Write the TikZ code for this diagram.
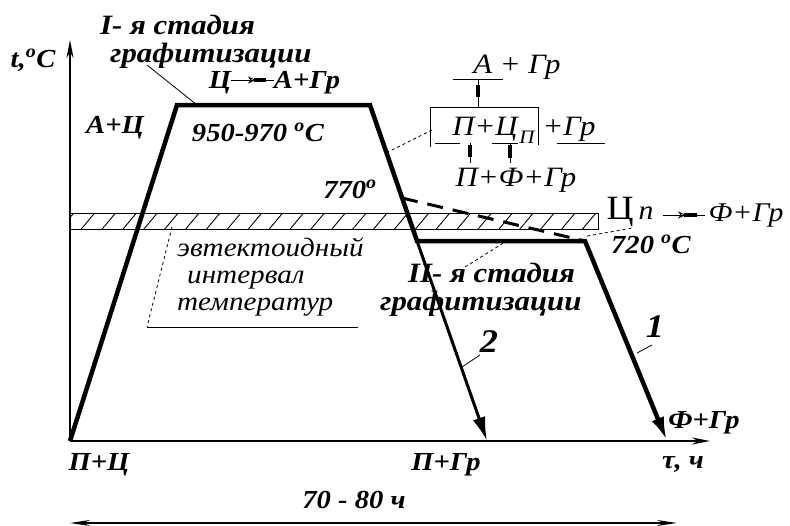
\documentclass[tikz,border=0pt]{standalone}
\usepackage{fontspec}
\setmainfont{Liberation Serif}[FakeStretch=1.1]
\usetikzlibrary{arrows.meta,patterns.meta}

\begin{document}
\begin{tikzpicture}[x=1pt,y=-1pt,>=Stealth,
    lab/.style={font=\bfseries\itshape\fontsize{26}{28}\selectfont,inner sep=0pt,anchor=base},
    head/.style={font=\bfseries\itshape\fontsize{28}{28}\selectfont,inner sep=0pt,align=left,anchor=base west},
    phase/.style={font=\itshape\fontsize{28}{30}\selectfont,inner sep=0pt,anchor=base},
    note/.style={font=\itshape\fontsize{26.5}{27}\selectfont,inner sep=0pt,align=left,anchor=base west},
    leader/.style={line width=0.8pt},
    bar/.style={line width=4pt},
    curve/.style={line width=4.5pt}]
    \useasboundingbox (0,0) rectangle (790,525);

    % Точки режима отжига.
    \coordinate (o) at (70,441);
    \coordinate (ytop) at (70,40);
    \coordinate (xend) at (710,441);
    \coordinate (h1) at (177,105);
    \coordinate (h2) at (370,105);
    \coordinate (c770) at (402,198);
    \coordinate (b2) at (417,241);
    \coordinate (b1) at (585,241);
    \coordinate (e2) at (487,441);
    \coordinate (e1) at (667,441);

    % Эвтектоидный интервал.
    \draw[line width=1pt,pattern={Lines[angle=50,distance=16pt,line width=0.9pt]}]
        (70,213) rectangle (598,229);

    % Оси.
    \draw[line width=2.5pt,-{Stealth[length=18pt,width=7pt]}] (o) -- (ytop);
    \draw[line width=2.5pt,-{Stealth[length=18pt,width=7pt]}] (o) -- (xend);

    % Кривые 1 и 2.
    \draw[curve,-{Latex[length=24pt,width=13pt]}] (o) -- (h1) -- (h2) -- (b2) -- (b1) -- (e1);
    \draw[line width=3pt,-{Latex[length=24pt,width=13pt]}] (b2) -- (e2);
    \draw[line width=3pt,dash pattern=on 16pt off 10pt] (c770) -- (b1);

    % Подписи на графике.
    \node[lab] (tC) at (33,67) {t,\textsuperscript{o}C};
    \node[head] (st1) at (100,62) {I- я стадия\\\hspace*{10pt}графитизации};
    \node[lab] (tz) at (220,88) {Ц};
    \node[lab] (tag) at (307,88) {А+Гр};
    \node[lab] (ac) at (115,133) {А+Ц};
    \node[lab] (t950) at (258,141) {950-970 \textsuperscript{o}C};
    \node[lab] (t770) at (350,198) {770\textsuperscript{o}};
    \node[lab] (t720) at (651,253) {720 \textsuperscript{o}C};
    \node[note] (ev) at (177,310) {эвтектоидный\\\hspace*{10pt}интервал\\температур};
    \node[head] (st2) at (380,310) {\hspace*{28pt}II- я стадия\\графитизации};
    \node[lab,font=\bfseries\itshape\fontsize{33}{33}\selectfont] (n2) at (489,352) {2};
    \node[lab,font=\bfseries\itshape\fontsize{33}{33}\selectfont] (n1) at (655,337) {1};
    \node[lab] (fgr) at (704,428) {Ф+Гр};
    \node[lab] (tau) at (683,468) {τ, ч};
    \node[lab] (pgr0) at (446,470) {П+Гр};
    \node[lab] (pc) at (99,470) {П+Ц};
    \node[lab] (dur) at (354,508) {70 - 80 ч};

    % Превращения.
    \node[phase] (pag) at (517,73) {А + Гр};
    \node[phase] (ppc) at (485,135) {П+Ц};
    \node[phase,font=\itshape\fontsize{19}{19}\selectfont] (ppcs) at (527,143) {П};
    \node[phase] (pgr) at (569,135) {+Гр};
    \node[phase] (ppf) at (516,186) {П+Ф+Гр};
    \node[phase,font=\fontsize{34}{34}\selectfont] (tcp) at (620,219) {Ц};
    \node[phase,font=\itshape\fontsize{27}{27}\selectfont] (tcpn) at (646,219) {п};
    \node[phase,font=\itshape\fontsize{27}{27}\selectfont] (pfg) at (746,221) {Ф+Гр};

    % Стрелки превращений.
    \draw[leader] (tz.east |- 0,80) -- (tag.west |- 0,80);
    \draw[leader,-{Stealth[length=8pt,width=7pt,open]}] (233,80) -- (256,80);
    \draw[bar] (254,80) -- (266,80);
    \draw[leader] (663,215) -- (705,215);
    \draw[leader,-{Stealth[length=8pt,width=7pt,open]}] (663,215) -- (686,215);
    \draw[bar] (684,215) -- (697,215);

    % Схема в скобках.
    \draw[leader] (453,79) -- (503,79);
    \draw[leader] (478,79) -- (478,107);
    \draw[bar] (478,85) -- (478,97);
    \draw[leader] (430,147) -- (430,107) -- (538,107) -- (538,145);
    \draw[leader] (435,143) -- (460,143);
    \draw[leader] (492,143) -- (518,143);
    \draw[leader] (557,143) -- (605,143);
    \draw[leader] (470,143) -- (470,163);
    \draw[bar] (470,145) -- (470,157);
    \draw[leader] (510,143) -- (510,163);
    \draw[bar] (510,145) -- (510,158);

    % Выноски.
    \draw[leader] (147,65) -- (197,105);
    \draw[leader,dashed] (432,130) -- (388,152);
    \draw[leader,dashed] (465,267) -- (505,242);
    \draw[leader,dashed] (587,236) -- (633,228);
    \draw[leader] (462,367) -- (480,355);
    \draw[leader] (637,353) -- (652,345);
    \draw[leader,dashed] (172,227) -- (147,327);
    \draw[leader] (147,327) -- (358,327);

    % Продолжительность.
    \draw[line width=2pt,{Stealth[length=20pt,width=6pt]}-{Stealth[length=20pt,width=6pt]}]
        (70,523) -- (677,523);
\end{tikzpicture}
\end{document}
